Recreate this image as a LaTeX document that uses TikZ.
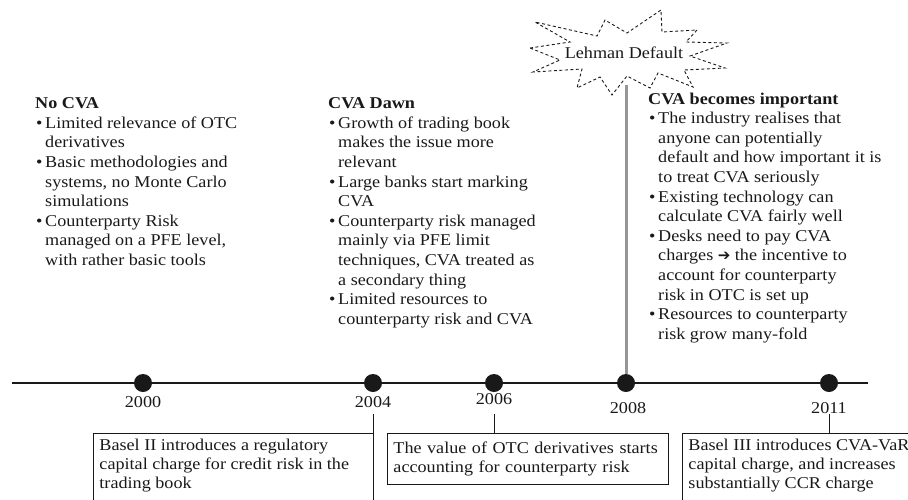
\documentclass[tikz,border=0pt]{standalone}
\usepackage{fontspec}
\setmainfont{Liberation Serif}[FakeStretch=1.1]
\newfontfamily\symf{DejaVu Sans}
\definecolor{ink}{RGB}{25,25,25}
\definecolor{guide}{RGB}{150,150,150}
\newcommand\bul{\hspace*{1pt}\makebox[9pt][l]{\textbullet}}
\newcommand\ind{\hspace*{10pt}}
\begin{document}
\begin{tikzpicture}[x=1pt,y=-1pt,
  col/.style={anchor=north west, align=left, inner sep=0pt, text=ink,
              font=\fontsize{16.5}{19.6}\selectfont},
  yr/.style={inner sep=0pt, text=ink, font=\fontsize{16.5}{19}\selectfont},
  dot/.style={circle, fill=black!90, minimum size=18pt, inner sep=0pt},
  evbox/.style={draw=ink, line width=0.9pt, anchor=north west, inner xsep=6pt,
                inner ysep=6pt, text=ink, font=\fontsize{16.5}{19}\selectfont},
  tick/.style={draw=ink, line width=1pt},
  timeline/.style={draw=ink, line width=1.5pt},
  guideline/.style={draw=guide, line width=3pt},
  burst/.style={draw=ink, line width=0.9pt, dash pattern=on 3pt off 2.5pt}]
\useasboundingbox (0,0) rectangle (908,499);
\clip (0,0) rectangle (908,499);

% timeline
\coordinate (tlL) at (12,383);
\coordinate (tlR) at (868,383);
\draw[timeline] (tlL) -- (tlR);

% starburst
\node[inner sep=0pt, text=ink, font=\fontsize{16.5}{19}\selectfont] (lehman) at (624,53) {Lehman Default};
\draw[burst] (530,48) -- (570,42) -- (535,22) -- (597,36) -- (605,20) -- (627,33)
  -- (661,10) -- (662,32) -- (697,30) -- (686,42) -- (727,43) -- (690,56)
  -- (725,68) -- (684,70) -- (693,87) -- (658,73) -- (650,88) -- (627,76)
  -- (612,95) -- (600,77) -- (577,88) -- (582,69) -- (533,72) -- (560,60) -- cycle;

% dots
\node[dot] (d2000) at (143,383) {};
\node[dot] (d2004) at (373,383) {};
\node[dot] (d2006) at (494,383) {};
\node[dot] (d2008) at (626,383) {};
\node[dot] (d2011) at (829,383) {};

% gray guide from 2008 to the burst
\coordinate (lehmantip) at (626,85);
\draw[guideline] (d2008.north) -- (lehmantip);

% years
\node[yr] (y2000) at (143,402) {2000};
\node[yr] (y2004) at (373,402) {2004};
\node[yr] (y2006) at (494,399) {2006};
\node[yr] (y2008) at (628,408) {2008};
\node[yr] (y2011) at (829,408) {2011};

% event boxes
\node[evbox] (b2004) at (93,433) {\parbox[t][75pt][t]{268pt}{Basel II introduces a regulatory\\capital charge for credit risk in the\\trading book}};
\node[evbox, text width=269pt, align=left, minimum height=51pt] (b2006) at (387,433)
  {The value of OTC derivatives starts\\accounting for counterparty risk};
\node[evbox] (b2011) at (682,433) {\parbox[t][75pt][t]{260pt}{Basel III introduces CVA-VaR\\capital charge, and increases\\substantially CCR charge}};

% ticks
\coordinate (t2004a) at (373,414);
\coordinate (t2004b) at (373,510);
\draw[tick] (t2004a) -- (t2004b);
\coordinate (t2006a) at (494,414);
\draw[tick] (t2006a) -- (t2006a |- b2006.north);
\coordinate (t2011a) at (829,414);
\draw[tick] (t2011a) -- (t2011a |- b2011.north);

% columns
\node[col] (c2000) at (35,97.5) {\textbf{No CVA}\\
\bul Limited relevance of OTC\\
\ind derivatives\\
\bul Basic methodologies and\\
\ind systems, no Monte Carlo\\
\ind simulations\\
\bul Counterparty Risk\\
\ind managed on a PFE level,\\
\ind with rather basic tools};

\node[col] (c2004) at (328,97.5) {\textbf{CVA Dawn}\\
\bul Growth of trading book\\
\ind makes the issue more\\
\ind relevant\\
\bul Large banks start marking\\
\ind CVA\\
\bul Counterparty risk managed\\
\ind mainly via PFE limit\\
\ind techniques, CVA treated as\\
\ind a secondary thing\\
\bul Limited resources to\\
\ind counterparty risk and CVA};

\node[col] (c2008) at (648,92.5) {\textbf{CVA becomes important}\\
\bul The industry realises that\\
\ind anyone can potentially\\
\ind default and how important it is\\
\ind to treat CVA seriously\\
\bul Existing technology can\\
\ind calculate CVA fairly well\\
\bul Desks need to pay CVA\\
\ind charges {\symf\fontsize{15}{15}\selectfont ➔} the incentive to\\
\ind account for counterparty\\
\ind risk in OTC is set up\\
\bul Resources to counterparty\\
\ind risk grow many-fold};
\end{tikzpicture}
\end{document}
